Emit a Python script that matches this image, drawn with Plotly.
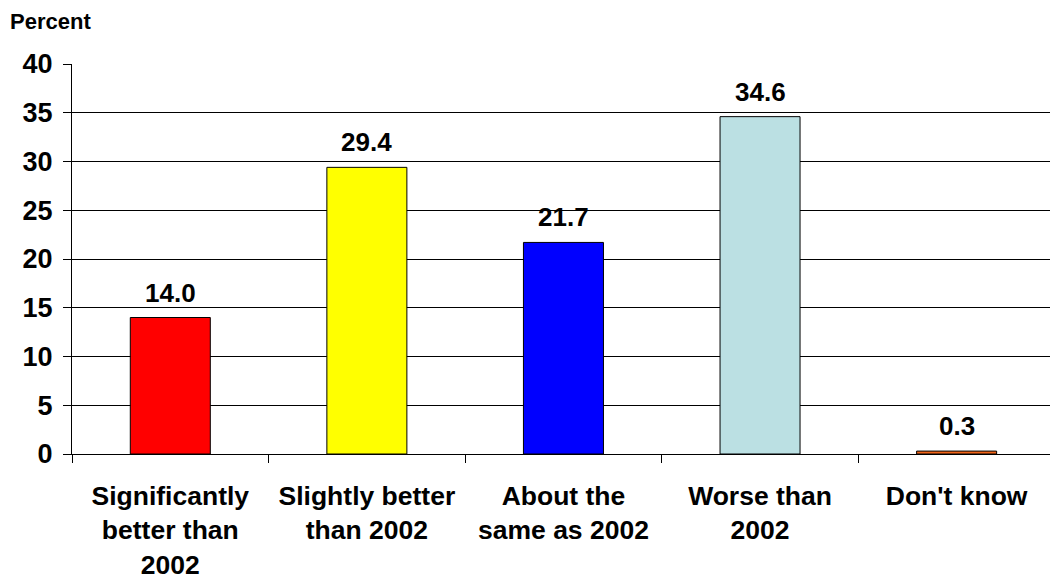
import plotly.graph_objects as go

categories = ["Significantly<br>better than<br>2002", "Slightly better<br>than 2002",
              "About the<br>same as 2002", "Worse than<br>2002", "Don't know"]
values = [14.0, 29.4, 21.7, 34.6, 0.3]
colors = ["#FF0000", "#FFFF00", "#0000FF", "#BBE0E3", "#F06418"]
y_ticks = [0, 5, 10, 15, 20, 25, 30, 35, 40]
y_title = "Percent"

FONT = "Liberation Sans, Arial, sans-serif"

fig = go.Figure()
fig.add_trace(go.Bar(
    x=categories, y=values, width=0.407,
    marker=dict(color=colors, line=dict(color="black", width=1)),
    hoverinfo="skip",
))

for c, v in zip(categories, values):
    fig.add_annotation(x=c, y=v, text=f"<b>{v:.1f}</b>", showarrow=False,
                       yanchor="bottom", yshift=8,
                       font=dict(family=FONT, size=26, color="black"))

fig.add_annotation(xref="paper", yref="paper", x=0, y=1, text=f"<b>{y_title}</b>",
                   showarrow=False, xanchor="left", yanchor="middle",
                   xshift=-64, yshift=43, font=dict(family=FONT, size=22, color="black"))

fig.update_layout(
    width=1050, height=579,
    margin=dict(l=72, r=0, t=64, b=125),
    paper_bgcolor="white", plot_bgcolor="white",
    showlegend=False,
    font=dict(family=FONT, color="black"),
)
fig.update_xaxes(
    type="category", range=[-0.5, 4.475], tickson="boundaries",
    ticks="outside", ticklen=8, tickcolor="black", tickwidth=1.3,
    showline=True, linecolor="black", linewidth=1.3,
    tickfont=dict(family=FONT, size=26.5, color="black", weight="bold"),
    ticklabelstandoff=18, showgrid=False, automargin=False,
)
fig.update_yaxes(
    range=[0, 40], tickvals=y_ticks, ticks="outside", ticklen=8,
    tickcolor="black", tickwidth=1.3,
    showline=True, linecolor="black", linewidth=1.3,
    showgrid=True, gridcolor="black", gridwidth=1.3, zeroline=False,
    tickfont=dict(family=FONT, size=27, color="black", weight="bold"),
    ticklabelstandoff=5, automargin=False,
)

fig.write_html("out.html")
